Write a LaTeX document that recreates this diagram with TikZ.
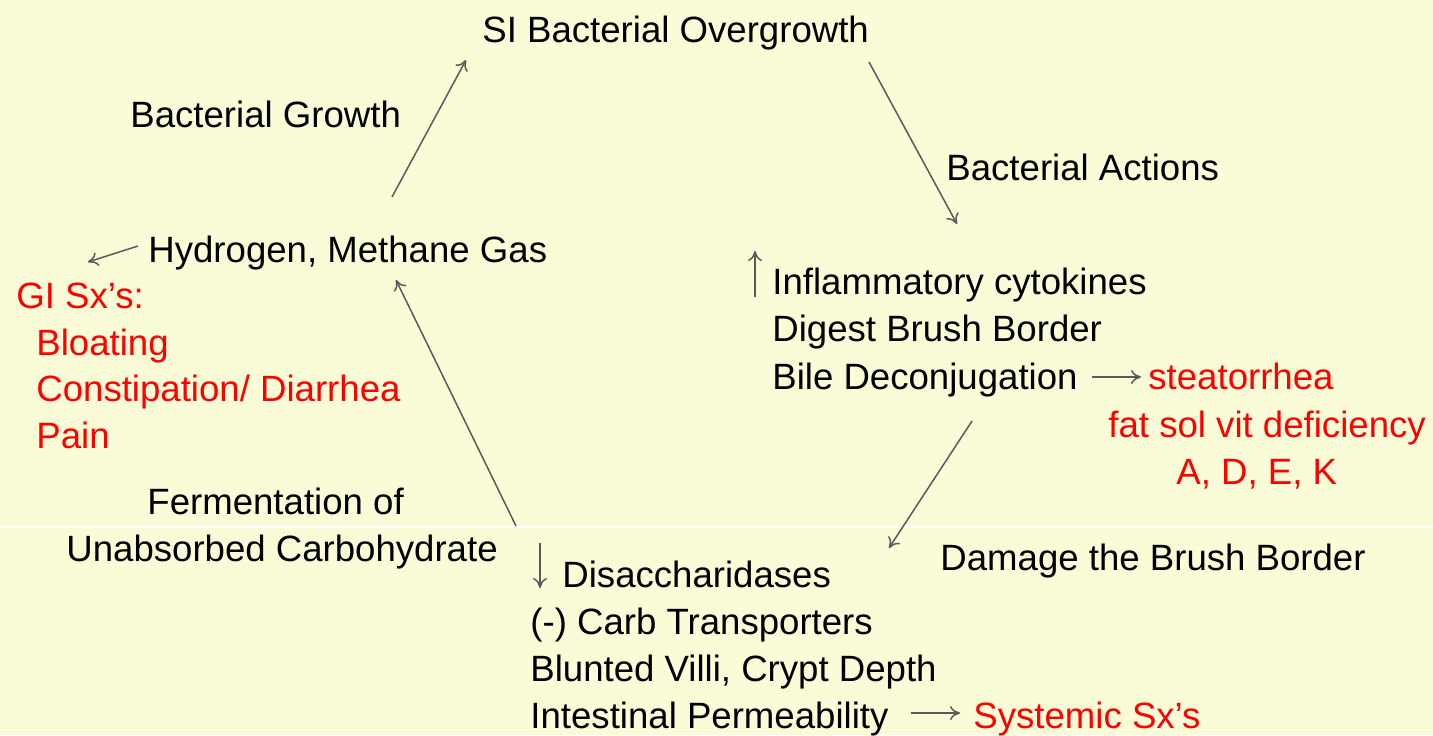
\documentclass[tikz,border=0pt]{standalone}
\usepackage{fontspec}
\setmainfont{Liberation Sans}
\usetikzlibrary{arrows.meta}
\definecolor{bgyellow}{RGB}{250,252,215}
\definecolor{arrowgray}{RGB}{90,90,90}
\definecolor{txtred}{RGB}{255,0,0}
\tikzset{
  lbl/.style={anchor=base west, inner sep=0pt, font=\fontsize{18.3}{22}\selectfont},
  redlbl/.style={lbl, text=txtred},
  conn/.style={draw=arrowgray, line width=0.75pt, -{To[length=5pt,width=7pt]}},
}
\begin{document}
\begin{tikzpicture}[x=0.5pt,y=-0.5pt]
\fill[bgyellow] (0,0) rectangle (1433,735);
\useasboundingbox (0,0) rectangle (1433,735);
\draw[white, line width=0.6pt] (0,527) -- (1433,527);

% texts
\node[lbl] (sibo) at (482,42) {SI Bacterial Overgrowth};
\node[lbl] (bgrowth) at (130,127) {Bacterial Growth};
\node[lbl] (bactions) at (946,180) {Bacterial Actions};
\node[lbl] (gas) at (148,262) {Hydrogen, Methane Gas};
\node[redlbl] (gisx) at (16,308) {GI Sx's:};
\node[redlbl] (bloat) at (36,355) {Bloating};
\node[redlbl] (const) at (36,401) {Constipation/ Diarrhea};
\node[redlbl] (pain) at (36,448) {Pain};
\node[lbl] (infl) at (772,294) {Inflammatory cytokines};
\node[lbl] (digest) at (772,341) {Digest Brush Border};
\node[lbl] (bile) at (772,389) {Bile Deconjugation};
\node[redlbl] (steat) at (1148,389) {steatorrhea};
\node[redlbl] (fatsol) at (1108,437) {fat sol vit deficiency};
\node[redlbl] (adek) at (1176,484) {A, D, E, K};
\node[lbl] (ferm1) at (147,514) {Fermentation of};
\node[lbl] (ferm2) at (66,561) {Unabsorbed Carbohydrate};
\node[lbl] (damage) at (940,570) {Damage the Brush Border};
\node[lbl] (disacc) at (562,587) {Disaccharidases};
\node[lbl] (carb) at (530,634) {(-) Carb Transporters};
\node[lbl] (blunt) at (530,681) {Blunted Villi, Crypt Depth};
\node[lbl] (perm) at (530,728) {Intestinal Permeability};
\node[redlbl] (syst) at (973,728) {Systemic Sx's};

% arrow end points
\coordinate (g1) at (392,197);
\coordinate (g2) at (466,60);
\coordinate (a1) at (869,62);
\coordinate (a2) at (957,224);
\coordinate (d1) at (972,421);
\coordinate (d2) at (889,548);
\coordinate (f1) at (516,526);
\coordinate (f2) at (396,280);
\coordinate (h1) at (138,246);
\coordinate (h2) at (88,262);
\coordinate (u1) at (755,297);
\coordinate (u2) at (755,251);
\coordinate (w1) at (540,543);
\coordinate (w2) at (540,588);
\coordinate (s1) at (1092,377);
\coordinate (s2) at (1141,377);
\coordinate (p1) at (911,713);
\coordinate (p2) at (960,713);

\draw[conn] (g1) -- (g2);
\draw[conn] (a1) -- (a2);
\draw[conn] (d1) -- (d2);
\draw[conn] (f1) -- (f2);
\draw[conn] (h1) -- (h2);
\draw[conn] (u1) -- (u2);
\draw[conn] (w1) -- (w2);
\draw[conn] (s1) -- (s2);
\draw[conn] (p1) -- (p2);
\end{tikzpicture}
\end{document}
